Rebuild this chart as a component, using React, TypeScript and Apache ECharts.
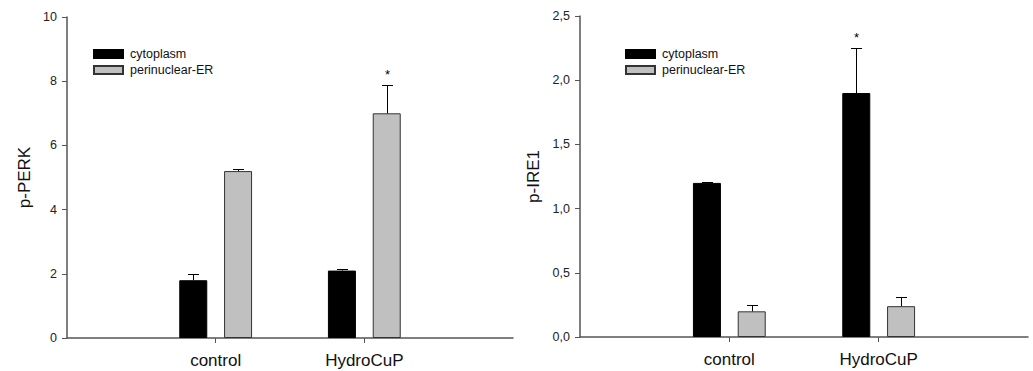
import React, { useEffect, useRef } from "react";
import * as echarts from "echarts";

const categories = ["control", "HydroCuP"];
const seriesNames = ["cytoplasm", "perinuclear-ER"];

const perkCytoplasm = [1.8, 2.1];
const perkCytoplasmErr = [0.18, 0.05];
const perkPerinuclear = [5.2, 7.0];
const perkPerinuclearErr = [0.08, 0.87];
const perkPerinuclearStar = ["", "*"];

const ire1Cytoplasm = [1.2, 1.9];
const ire1CytoplasmErr = [0.01, 0.35];
const ire1CytoplasmStar = ["", "*"];
const ire1Perinuclear = [0.2, 0.24];
const ire1PerinuclearErr = [0.05, 0.075];

const perkTicks = { min: 0, max: 10, interval: 2 };
const ire1Ticks = { min: 0, max: 2.5, interval: 0.5 };

const FONT = "'Liberation Sans', Arial, sans-serif";
const BAR_W = 28;
const BAR_GAP = 0.6;
const OFFSET = (BAR_W + BAR_W * BAR_GAP) / 2;

const pad = (arr: number[]) => [null, ...arr, null];

function errorSeries(
  gridIdx: number,
  values: number[],
  errs: number[],
  side: number,
  stars?: string[]
) {
  const data = values.map((v, i) => [i + 1, v, errs[i], stars ? stars[i] : ""]);
  return {
    type: "custom",
    xAxisIndex: gridIdx,
    yAxisIndex: gridIdx,
    z: 5,
    silent: true,
    data,
    encode: { x: 0, y: 1 },
    renderItem: (params: any, api: any) => {
      const c = api.value(0);
      const v = api.value(1);
      const e = api.value(2);
      const idx = params.dataIndex;
      const star = data[idx][3] as string;
      const base = api.coord([c, v]);
      const top = api.coord([c, v + e]);
      const x = Math.round(base[0] + side * OFFSET) + 0.5;
      const yb = base[1];
      const yt = Math.round(top[1]) + 0.5;
      const children: any[] = [
        { type: "line", shape: { x1: x, y1: yb, x2: x, y2: yt }, style: { stroke: "#000", lineWidth: 1 } },
        { type: "line", shape: { x1: x - 5.5, y1: yt, x2: x + 5.5, y2: yt }, style: { stroke: "#000", lineWidth: 1 } },
      ];
      if (star) {
        children.push({
          type: "text",
          x: x,
          y: yt - 5,
          style: { text: star, fill: "#000", font: `13px ${FONT}`, align: "center", verticalAlign: "bottom" },
        });
      }
      return { type: "group", children };
    },
  };
}

function barSeries(gridIdx: number, name: string, values: number[], gray: boolean) {
  return {
    type: "bar",
    name,
    xAxisIndex: gridIdx,
    yAxisIndex: gridIdx,
    data: pad(values),
    barWidth: BAR_W,
    barGap: `${BAR_GAP * 100}%`,
    itemStyle: gray
      ? { color: "#c0c0c0", borderColor: "#333", borderWidth: 1 }
      : { color: "#000", borderColor: "#000", borderWidth: 1 },
  };
}

function xAxis(gridIdx: number) {
  return {
    type: "category",
    gridIndex: gridIdx,
    data: ["", ...categories, ""],
    boundaryGap: false,
    axisLine: { show: true, lineStyle: { color: "#555", width: 1.5 } },
    axisTick: { show: true, length: 5, interval: (i: number) => i === 1 || i === 2, lineStyle: { color: "#555" } },
    axisLabel: {
      interval: (i: number) => i === 1 || i === 2,
      fontSize: 17,
      fontFamily: FONT,
      color: "#111",
      margin: 14,
    },
    splitLine: { show: false },
  };
}

function yAxis(gridIdx: number, name: string, t: any, gap: number, fmt: (v: number) => string) {
  return {
    type: "value",
    gridIndex: gridIdx,
    min: t.min,
    max: t.max,
    interval: t.interval,
    name,
    nameLocation: "middle",
    nameGap: gap,
    nameTextStyle: { fontSize: 17, fontFamily: FONT, color: "#111" },
    axisLine: { show: true, lineStyle: { color: "#555", width: 1.5 } },
    axisTick: { show: true, length: 5, lineStyle: { color: "#555" } },
    axisLabel: { fontSize: 12.5, fontFamily: FONT, color: "#222", margin: 10, formatter: fmt },
    splitLine: { show: false },
  };
}

function legend(left: number) {
  return {
    data: seriesNames,
    orient: "vertical",
    left,
    top: 47,
    padding: 0,
    itemWidth: 29,
    itemHeight: 8,
    itemGap: 2,
    icon: "rect",
    selectedMode: false,
    textStyle: { fontSize: 12.5, fontFamily: FONT, color: "#111", lineHeight: 14, padding: [0, 0, 0, 2] },
  };
}

export default function App() {
  const ref = useRef<HTMLDivElement>(null);
  useEffect(() => {
    if (!ref.current) return;
    const chart = echarts.init(ref.current, undefined, { renderer: "svg" });
    chart.setOption({
      animation: false,
      backgroundColor: "#fff",
      grid: [
        { left: 67, right: 520, top: 17, bottom: 33 },
        { left: 580, right: 5, top: 16, bottom: 34 },
      ],
      legend: [legend(93), legend(625)],
      xAxis: [xAxis(0), xAxis(1)],
      yAxis: [
        yAxis(0, "p-PERK", perkTicks, 34, (v: number) => String(v)),
        yAxis(1, "p-IRE1", ire1Ticks, 38, (v: number) => v.toFixed(1).replace(".", ",")),
      ],
      series: [
        barSeries(0, seriesNames[0], perkCytoplasm, false),
        barSeries(0, seriesNames[1], perkPerinuclear, true),
        barSeries(1, seriesNames[0], ire1Cytoplasm, false),
        barSeries(1, seriesNames[1], ire1Perinuclear, true),
        errorSeries(0, perkCytoplasm, perkCytoplasmErr, -1),
        errorSeries(0, perkPerinuclear, perkPerinuclearErr, 1, perkPerinuclearStar),
        errorSeries(1, ire1Cytoplasm, ire1CytoplasmErr, -1, ire1CytoplasmStar),
        errorSeries(1, ire1Perinuclear, ire1PerinuclearErr, 1),
      ],
    });
    return () => chart.dispose();
  }, []);
  return (
    <div
      ref={ref}
      style={{ position: "fixed", left: 0, top: 0, width: 1033, height: 371, background: "#fff" }}
    />
  );
}
